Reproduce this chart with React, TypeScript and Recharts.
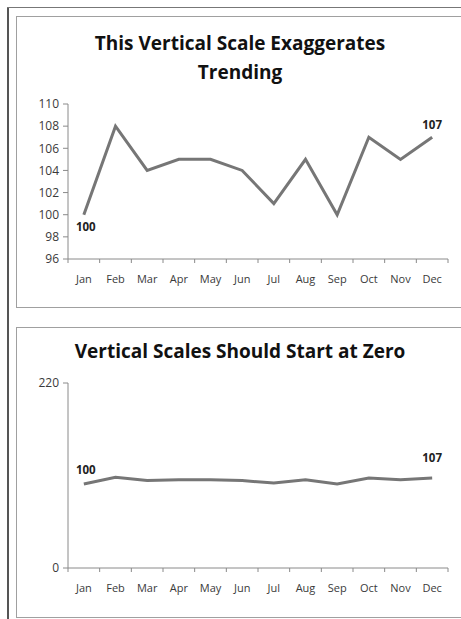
import * as React from "react";
import { LineChart, Line, XAxis, YAxis, LabelList } from "recharts";

const months = ["Jan", "Feb", "Mar", "Apr", "May", "Jun", "Jul", "Aug", "Sep", "Oct", "Nov", "Dec"];
const values = [100, 108, 104, 105, 105, 104, 101, 105, 100, 107, 105, 107];
const trendTicks = [96, 98, 100, 102, 104, 106, 108, 110];
const zeroTicks = [0, 220];

const data = months.map((m, i) => ({ month: m, value: values[i] }));

const W = 461;
const PLOT_LEFT = 68;
const PLOT_RIGHT = 448;
const BAND = (PLOT_RIGHT - PLOT_LEFT) / months.length;
const FONT = "'Open Sans', 'DejaVu Sans', sans-serif";
const AXIS = "#8a8a8a";
const LINE = "#767676";

function MonthTick(props: any) {
  const { x, y, payload, index } = props;
  const half = BAND / 2;
  const last = index === months.length - 1;
  return (
    <g>
      <line x1={x - half} x2={x - half} y1={y} y2={y + 4} stroke={AXIS} />
      {last && <line x1={x + half} x2={x + half} y1={y} y2={y + 4} stroke={AXIS} />}
      <text x={x} y={y + 24} textAnchor="middle" fontSize={11} fill="#3a3a3a" fontFamily={FONT}>
        {payload.value}
      </text>
    </g>
  );
}

// only the first and last points carry a value label
function endLabel(offsets: Record<number, number>) {
  return (props: any) => {
    const { x, y, index, value } = props;
    if (!(index in offsets)) return null;
    return (
      <text
        x={x + (index === 0 ? 2 : 0)}
        y={y + offsets[index]}
        textAnchor="middle"
        dominantBaseline="central"
        fontSize={11.5}
        fontWeight={700}
        fill="#222"
        fontFamily={FONT}
      >
        {value}
      </text>
    );
  };
}

function Panel({
  top,
  height,
  plotTop,
  domain,
  ticks,
  labelOffsets,
}: {
  top: number;
  height: number;
  plotTop: number;
  domain: [number, number];
  ticks: number[];
  labelOffsets: Record<number, number>;
}) {
  return (
    <div style={{ position: "absolute", left: 0, top }}>
      <LineChart
        width={W}
        height={height}
        data={data}
        margin={{ top: plotTop, right: W - PLOT_RIGHT, bottom: 21, left: PLOT_LEFT - 40 }}
      >
        <XAxis
          dataKey="month"
          height={30}
          stroke={AXIS}
          tickLine={false}
          tickSize={0}
          tickMargin={0}
          interval={0}
          padding={{ left: BAND / 2, right: BAND / 2 }}
          tick={<MonthTick />}
        />
        <YAxis
          width={40}
          domain={domain}
          ticks={ticks}
          interval={0}
          stroke={AXIS}
          tickSize={5}
          tickMargin={4}
          tick={{ fontSize: 12, fill: "#3a3a3a", fontFamily: FONT }}
        />
        <Line
          dataKey="value"
          stroke={LINE}
          strokeWidth={3}
          dot={false}
          isAnimationActive={false}
        >
          <LabelList dataKey="value" content={endLabel(labelOffsets)} />
        </Line>
      </LineChart>
    </div>
  );
}

const titleStyle: React.CSSProperties = {
  position: "absolute",
  left: 16,
  width: 448,
  textAlign: "center",
  fontFamily: FONT,
  fontWeight: 700,
  fontSize: 19,
  color: "#111",
  lineHeight: "29px",
};

export default function App() {
  return (
    <div
      style={{
        position: "absolute",
        left: 0,
        top: 0,
        width: W,
        height: 619,
        overflow: "hidden",
        background: "#fff",
      }}
    >
      {/* outer frame */}
      <div style={{ position: "absolute", left: 7, top: 7, width: 2, height: 612, background: "#555" }} />
      <div style={{ position: "absolute", left: 7, top: 7, width: 460, height: 1, background: "#777" }} />
      {/* chart boxes */}
      <div style={{ position: "absolute", left: 16, top: 16, width: 460, height: 290, border: "1px solid #a0a0a0" }} />
      <div style={{ position: "absolute", left: 16, top: 327, width: 460, height: 289, border: "1px solid #a0a0a0" }} />

      <div style={{ ...titleStyle, top: 29 }}>
        This Vertical Scale Exaggerates
        <br />
        Trending
      </div>
      <div style={{ ...titleStyle, top: 337 }}>Vertical Scales Should Start at Zero</div>

      <Panel top={0} height={310} plotTop={104} domain={[96, 110]} ticks={trendTicks} labelOffsets={{ 0: 12, 11: -13 }} />
      <Panel top={300} height={319} plotTop={83} domain={[0, 220]} ticks={zeroTicks} labelOffsets={{ 0: -14, 11: -21 }} />
    </div>
  );
}
